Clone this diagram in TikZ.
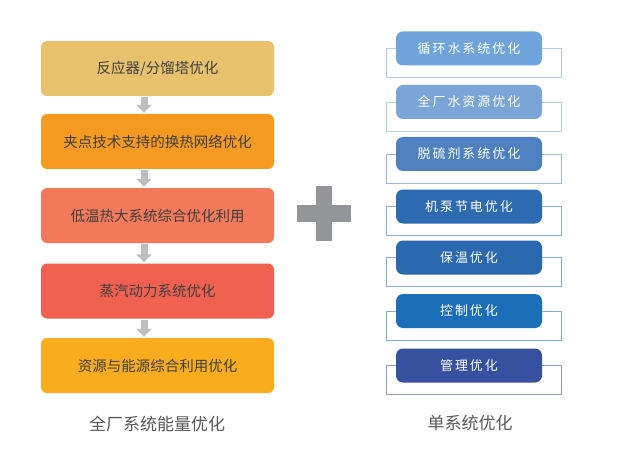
\documentclass[tikz,border=0pt]{standalone}
\usepackage{fontspec}
\setmainfont{Noto Sans CJK SC}
\usetikzlibrary{arrows.meta,backgrounds}
\definecolor{plantA}{HTML}{E8C16C}
\definecolor{plantB}{HTML}{F69A21}
\definecolor{plantC}{HTML}{F27A5A}
\definecolor{plantD}{HTML}{EF6050}
\definecolor{plantE}{HTML}{F9AC1E}
\definecolor{unitA}{HTML}{6FA3D9}
\definecolor{unitB}{HTML}{7AA5D6}
\definecolor{unitC}{HTML}{4F81C0}
\definecolor{unitD}{HTML}{2E6AB2}
\definecolor{unitE}{HTML}{2B68B0}
\definecolor{unitF}{HTML}{1B6EB7}
\definecolor{unitG}{HTML}{3651A0}
\definecolor{textgray}{HTML}{404040}
\definecolor{labelgray}{HTML}{595959}
\definecolor{arrowgray}{HTML}{BDBEC0}
\definecolor{plusgray}{HTML}{939598}
\tikzset{
  plantbox/.style={rounded corners=6pt, minimum width=233pt, minimum height=55pt,
    inner sep=0pt, text=textgray, font=\fontsize{14.5}{16}\selectfont},
  unitbox/.style={rounded corners=7pt, minimum width=146pt, minimum height=34pt,
    inner sep=0pt, text=white, font=\fontsize{13}{15}\selectfont\addfontfeature{LetterSpace=15}},
  downarrow/.style={draw=arrowgray, line width=7pt, -{Triangle[width=15pt,length=8pt]}},
  unitframe/.style={line width=0.8pt},
  caption/.style={text=labelgray, font=\fontsize{17}{19}\selectfont}
}
\begin{document}
\begin{tikzpicture}
[x=1pt,y=-1pt]
\useasboundingbox (0,0) rectangle (624,468);
%% whole plant
\node[plantbox, fill=plantA] (p1) at (157.5, 68.5)  {反应器/分馏塔优化};
\node[plantbox, fill=plantB] (p2) at (157.5, 141.5) {夹点技术支持的换热网络优化};
\node[plantbox, fill=plantC] (p3) at (157.5, 215.5) {低温热大系统综合优化利用};
\node[plantbox, fill=plantD] (p4) at (157.5, 291)   {蒸汽动力系统优化};
\node[plantbox, fill=plantE] (p5) at (157.5, 365.5) {资源与能源综合利用优化};
\draw[downarrow] ([xshift=-13.5pt,yshift=-1pt]p1.south)--([xshift=-13.5pt,yshift=1pt]p2.north);
\draw[downarrow] ([xshift=-13.5pt,yshift=-1pt]p2.south)--([xshift=-13.5pt,yshift=1pt]p3.north);
\draw[downarrow] ([xshift=-13.5pt,yshift=-1pt]p3.south)--([xshift=-13.5pt,yshift=1pt]p4.north);
\draw[downarrow] ([xshift=-13.5pt,yshift=-1pt]p4.south)--([xshift=-13.5pt,yshift=1pt]p5.north);
\node[caption] (plant) at (157, 424) {全厂系统能量优化};
%% plus
\fill[plusgray] (297,205) rectangle (351,222);
\fill[plusgray] (316,186) rectangle (332,241);
%% single units
\node[unitbox, fill=unitA] (r1) at (469, 48.5)  {循环水系统优化};
\node[unitbox, fill=unitB] (r2) at (469, 102)   {全厂水资源优化};
\node[unitbox, fill=unitC] (r3) at (469, 154)   {脱硫剂系统优化};
\node[unitbox, fill=unitD] (r4) at (469, 206.5) {机泵节电优化};
\node[unitbox, fill=unitE] (r5) at (469, 257.5) {保温优化};
\node[unitbox, fill=unitF] (r6) at (469, 311)   {控制优化};
\node[unitbox, fill=unitG] (r7) at (469, 365.5) {管理优化};
\begin{scope}[on background layer]
\draw[unitframe, draw=unitA!55] ([xshift=-9pt]r1.west) rectangle ([xshift=19pt,yshift=-29pt]r1.east);
\draw[unitframe, draw=unitB!55] ([xshift=-9pt]r2.west) rectangle ([xshift=19pt,yshift=-29pt]r2.east);
\draw[unitframe, draw=unitC!55] ([xshift=-9pt]r3.west) rectangle ([xshift=19pt,yshift=-29pt]r3.east);
\draw[unitframe, draw=unitD!55] ([xshift=-9pt]r4.west) rectangle ([xshift=19pt,yshift=-29pt]r4.east);
\draw[unitframe, draw=unitE!55] ([xshift=-9pt]r5.west) rectangle ([xshift=19pt,yshift=-29pt]r5.east);
\draw[unitframe, draw=unitF!55] ([xshift=-9pt]r6.west) rectangle ([xshift=19pt,yshift=-29pt]r6.east);
\draw[unitframe, draw=unitG!55] ([xshift=-9pt]r7.west) rectangle ([xshift=19pt,yshift=-29pt]r7.east);
\end{scope}
\node[caption] (unit) at (470, 423) {单系统优化};
\end{tikzpicture}
\end{document}
